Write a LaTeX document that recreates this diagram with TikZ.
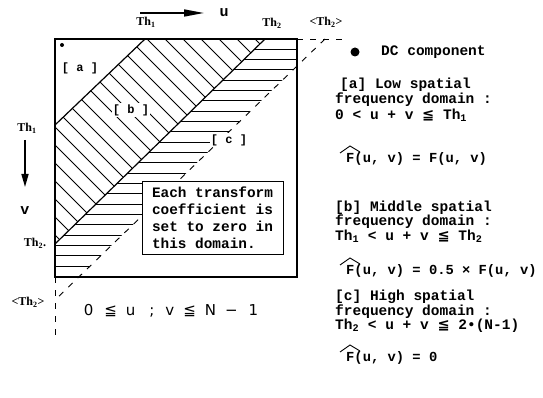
\documentclass[tikz,border=0pt]{standalone}
\usepackage{fontspec}
\setmainfont{Liberation Mono}
\newfontfamily\sym{DejaVu Sans}
\newfontfamily\thfont{Liberation Serif}
\usetikzlibrary{arrows.meta,calc}
\tikzset{
  hatch/.style={line width=0.8pt},
  frameline/.style={line width=1.4pt},
  divline/.style={line width=1.2pt},
  dashl/.style={line width=0.9pt, dash pattern=on 6pt off 7pt},
  desc/.style={anchor=west, inner sep=0pt, font=\bfseries\fontsize{14.5}{16}\selectfont},
  formula/.style={anchor=west, inner sep=0pt, font=\bfseries\fontsize{13.8}{16}\selectfont},
  hatmark/.style={line width=0.9pt},
  thlab/.style={inner sep=0pt, font=\thfont\bfseries\fontsize{12}{14}\selectfont},
  reg/.style={fill=white, inner sep=1pt, font=\bfseries\fontsize{12}{14}\selectfont},
  axlab/.style={inner sep=0pt, font=\bfseries\fontsize{15}{17}\selectfont}
}
\begin{document}
\begin{tikzpicture}[x=1pt,y=-1pt]
\useasboundingbox (0,0) rectangle (543,398);
% key points
\coordinate (TL) at (55,39);
\coordinate (TR) at (297,39);
\coordinate (BR) at (297,277);
\coordinate (BL) at (55,277);
\coordinate (A1) at (145,39);
\coordinate (B1) at (55,125);
\coordinate (A2) at (265,39);
\coordinate (B2) at (55,244);
\coordinate (A3) at (325,39);
\coordinate (B3) at (55,300);
\coordinate (C3) at (297,66);
\coordinate (D3) at (78.8,277);
\coordinate (TX) at (342,39);
\coordinate (LX) at (55,337);
% region b hatching
\begin{scope}
  \clip (A1) -- (A2) -- (B2) -- (B1) -- cycle;
  \foreach \c in {-180,-162,...,216}
    \draw[hatch] ({\c+0},0) -- ({\c+320},320);
\end{scope}
% region c hatching
\begin{scope}
  \clip (A2) -- (TR) -- (C3) -- (D3) -- (BL) -- (B2) -- cycle;
  \foreach \i in {0,...,21}
    \draw[hatch] (40,{49+10.33*\i}) -- (310,{49+10.33*\i});
\end{scope}
% dividing lines
\draw[divline] (A1) -- (B1);
\draw[divline] (A2) -- (B2);
\draw[dashl] (A3) -- (B3);
\draw[dashl] (TR) -- (TX);
\draw[dashl] (BL) -- (LX);
% frame
\draw[frameline] (TL) rectangle (BR);
% DC dot
\fill (62,45) circle (2pt);
% region labels
\node[reg] (ra) at (80,68) {[ a ]};
\node[reg] (rb) at (131,110) {[ b ]};
\node[reg] (rc) at (229,140) {[ c ]};
% note box
\node[draw, fill=white, line width=1pt, minimum width=141pt, minimum height=72pt,
      align=left, inner sep=2pt, font=\bfseries\fontsize{14.4}{17}\selectfont]
      (note) at (212.5,218) {Each transform\\coefficient is\\set to zero in\\this domain.};
% axes labels
\coordinate (ua) at (140,13);
\coordinate (ub) at (204,13);
\draw[line width=1.6pt, -{Triangle[length=20pt,width=7pt]}] (ua) -- (ub);
\node[axlab] (u) at (224,13) {u};
\coordinate (va) at (25,140);
\coordinate (vb) at (25,187);
\draw[line width=1.6pt, -{Triangle[length=13pt,width=7pt]}] (va) -- (vb);
\node[axlab] (v) at (25,211) {v};
\node[thlab] (th1t) at (146,22) {Th\textsubscript{1}};
\node[thlab] (th2t) at (272,23) {Th\textsubscript{2}};
\node[thlab] (th3t) at (326,22) {<Th\textsubscript{2}>};
\node[thlab] (th1l) at (27,128) {Th\textsubscript{1}};
\node[thlab] (th2l) at (35,243) {Th\textsubscript{2}.};
\node[thlab] (th3l) at (28,302) {<Th\textsubscript{2}>};
% range
\node[inner sep=0pt, font=\sym\fontsize{15}{17}\selectfont] (rng) at (171,311)
  {0\hspace{11pt}≦\hspace{9pt}u\hspace{14pt};\hspace{11pt}v\hspace{9pt}≦\hspace{9pt}N\hspace{9pt}−\hspace{11pt}1};
% legend
\fill (355,52) circle (4.5pt);
\node[desc] (t1) at (381,52) {DC component};
\node[desc] (t2) at (340,85) {[a] Low spatial};
\node[desc] (t3) at (335,100) {frequency domain :};
\node[desc] (t4) at (335,115) {0 < u + v {\sym ≦} Th\textsubscript{1}};
\node[formula] (t5) at (346,159) {F(u, v) = F(u, v)};
\node[desc] (t6) at (335,208) {[b] Middle spatial};
\node[desc] (t7) at (335,222) {frequency domain :};
\node[desc] (t8) at (335,236) {Th\textsubscript{1} < u + v {\sym ≦} Th\textsubscript{2}};
\node[formula] (t9) at (346,271) {F(u, v) = 0.5 × F(u, v)};
\node[desc] (t10) at (335,297) {[c] High spatial};
\node[desc] (t11) at (335,312) {frequency domain :};
\node[desc] (t12) at (335,326) {Th\textsubscript{2} < u + v {\sym ≦} 2•(N-1)};
\node[formula] (t13) at (346,358) {F(u, v) = 0};
% hats over F
\foreach \t in {t5,t9,t13}
  \draw[hatmark] ($(\t.west)+(-6,-6)$) -- ($(\t.west)+(4,-13)$) -- ($(\t.west)+(14,-7)$);
\end{tikzpicture}
\end{document}
